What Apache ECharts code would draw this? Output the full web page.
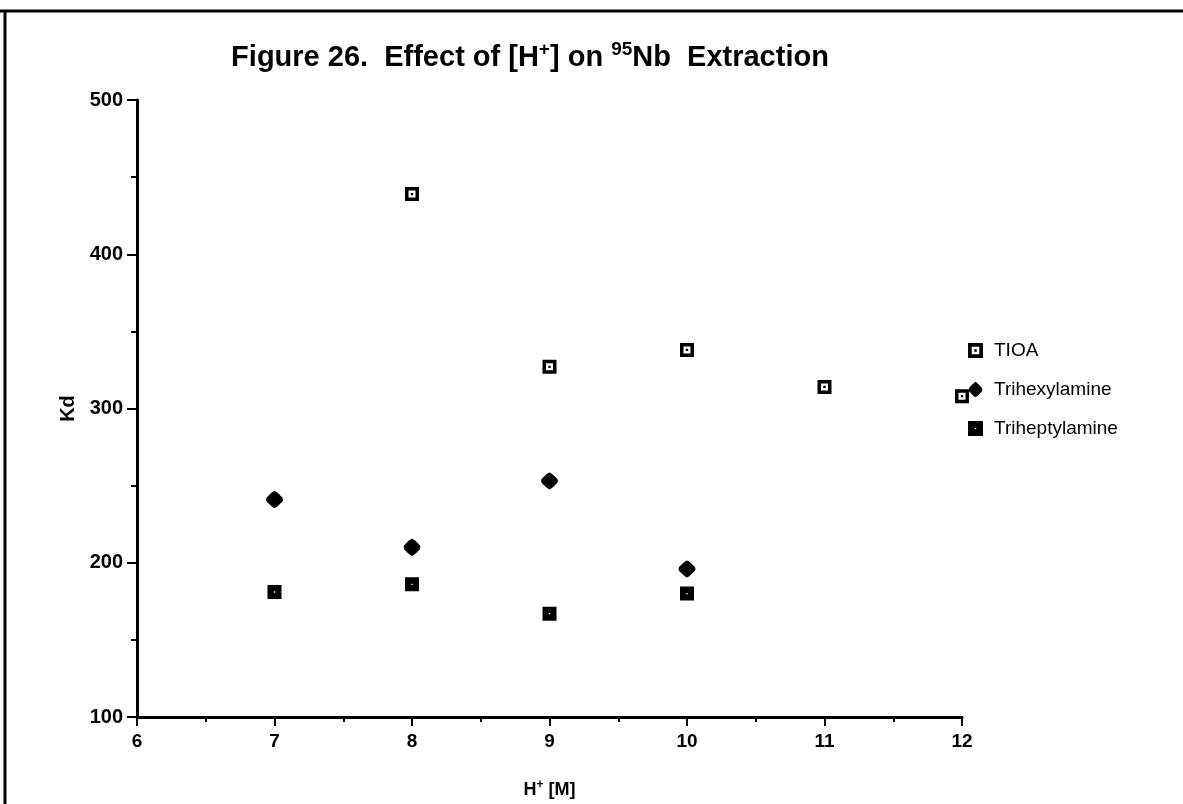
<!DOCTYPE html>
<html>
<head>
<meta charset="utf-8">
<script src="https://cdn.jsdelivr.net/npm/echarts@6/dist/echarts.min.js"></script>
<style>
html,body{margin:0;padding:0;background:#fff;}
#chart{width:1183px;height:804px;}
</style>
</head>
<body>
<div id="chart"></div>
<script>
// Data
const tioaX = [8, 9, 10, 11, 12];
const tioaKd = [439, 327, 338, 314, 308];
const hexylX = [7, 8, 9, 10];
const hexylKd = [241, 210, 253, 196];
const heptylX = [7, 8, 9, 10];
const heptylKd = [181, 186, 167, 180];
const seriesNames = ['TIOA', 'Trihexylamine', 'Triheptylamine'];

const pairs = (xs, ys) => xs.map((x, i) => [x, ys[i]]);

// Symbols
const hollowSq = 'path://M0,0 L12,0 L12,12 L0,12 Z M3,3 L3,9 L9,9 L9,3 Z M5,5 L7,5 L7,7 L5,7 Z';
const solidSq = 'path://M0,0 L12,0 L12,12 L0,12 Z M5.4,5.4 L5.4,6.6 L6.6,6.6 L6.6,5.4 Z';
const roundDiamond = 'path://M6,0 Q7,0 11,4.5 Q12,6 11,7.5 Q7,12 6,12 Q5,12 1,7.5 Q0,6 1,4.5 Q5,0 6,0 Z';

const FONT = '"Liberation Sans", Arial, Helvetica, sans-serif';
const chart = echarts.init(document.getElementById('chart'));

chart.setOption({
  animation: false,
  backgroundColor: '#fff',
  title: {
    text: '{a|Figure 26.  Effect of [H}{s|+}{a|] on }{s|95}{a|Nb  Extraction}',
    left: 525,
    textAlign: 'center',
    top: 35,
    textStyle: {
      rich: {
        a: { fontFamily: FONT, fontWeight: 'bold', fontSize: 29, color: '#000', lineHeight: 36 },
        s: { fontFamily: FONT, fontWeight: 'bold', fontSize: 19, color: '#000', lineHeight: 36, verticalAlign: 'top', padding: [0, 0, 12, 0] }
      }
    }
  },
  legend: {
    orient: 'vertical',
    left: 963,
    top: 336,
    itemGap: 20,
    itemWidth: 15,
    itemHeight: 15,
    data: seriesNames,
    textStyle: { fontFamily: FONT, fontSize: 19, color: '#000', padding: [0, 0, 0, 6] }
  },
  grid: { left: 137, right: 221, top: 100, bottom: 83, containLabel: false },
  xAxis: {
    type: 'value',
    min: 6, max: 12, interval: 1,
    name: '{b|H}{s|+}{b| [M]}',
    nameLocation: 'middle',
    nameGap: 62,
    nameTextStyle: {
      rich: {
        b: { fontFamily: FONT, fontWeight: 'bold', fontSize: 18, color: '#000', lineHeight: 22 },
        s: { fontFamily: FONT, fontWeight: 'bold', fontSize: 12, color: '#000', lineHeight: 22, verticalAlign: 'top', padding: [0, 0, 7, 0] }
      }
    },
    axisLine: { onZero: false, lineStyle: { color: '#000', width: 3 } },
    axisTick: { length: 9, lineStyle: { color: '#000', width: 2 } },
    minorTick: { show: true, splitNumber: 2, length: 5, lineStyle: { color: '#000', width: 2 } },
    splitLine: { show: false },
    axisLabel: { fontFamily: FONT, fontWeight: 'bold', fontSize: 19, color: '#000', margin: 15 }
  },
  yAxis: {
    type: 'value',
    min: 100, max: 500, interval: 100,
    name: 'Kd',
    nameLocation: 'middle',
    nameRotate: 90,
    nameGap: 56,
    nameTextStyle: { fontFamily: FONT, fontWeight: 'bold', fontSize: 20, color: '#000' },
    axisLine: { onZero: false, lineStyle: { color: '#000', width: 3 } },
    axisTick: { length: 10, lineStyle: { color: '#000', width: 2 } },
    minorTick: { show: true, splitNumber: 2, length: 6, lineStyle: { color: '#000', width: 2 } },
    splitLine: { show: false },
    axisLabel: { fontFamily: FONT, fontWeight: 'bold', fontSize: 20, color: '#000', margin: 14 }
  },
  series: [
    {
      name: seriesNames[0], type: 'scatter',
      symbol: hollowSq, symbolSize: 14,
      itemStyle: { color: '#000', opacity: 1 },
      data: pairs(tioaX, tioaKd)
    },
    {
      name: seriesNames[1], type: 'scatter',
      symbol: roundDiamond, symbolSize: 17,
      itemStyle: { color: '#000', opacity: 1 },
      data: pairs(hexylX, hexylKd)
    },
    {
      name: seriesNames[2], type: 'scatter',
      symbol: solidSq, symbolSize: 14,
      itemStyle: { color: '#000', opacity: 1 },
      data: pairs(heptylX, heptylKd)
    }
  ],
  graphic: [
    { type: 'line', shape: { x1: 0, y1: 11, x2: 1183, y2: 11 }, style: { stroke: '#000', lineWidth: 3 } },
    { type: 'line', shape: { x1: 5, y1: 11, x2: 5, y2: 804 }, style: { stroke: '#000', lineWidth: 3 } }
  ]
});
</script>
</body>
</html>
